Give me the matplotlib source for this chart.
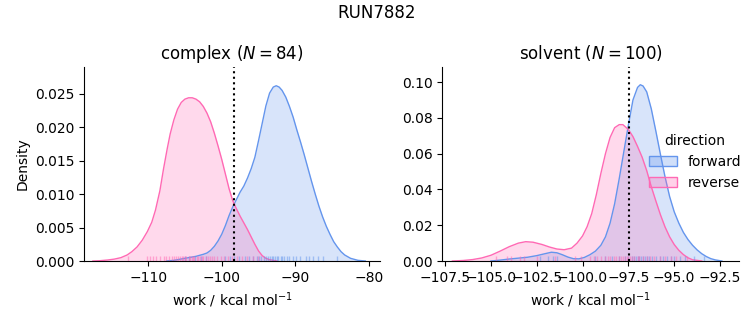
import matplotlib
matplotlib.use("Agg")
import matplotlib.pyplot as plt
import seaborn as sns
from matplotlib.patches import Patch
from matplotlib.colors import to_rgba

# ---- data ----
fwd_color = "#6495ED"
rev_color = "#FF69B4"

# complex: density curves (work, density)
cx_fwd_x = [-107.5, -106.5, -105.5, -104.5, -103.5, -102.5, -102.0, -101.5, -101.0, -100.5, -100.0,
            -99.5, -99.0, -98.5, -98.0, -97.5, -97.0, -96.5, -96.0, -95.5, -95.0, -94.5, -94.0,
            -93.5, -93.0, -92.6, -92.2, -91.8, -91.3, -90.8, -90.3, -89.8, -89.3, -88.8, -88.3,
            -87.8, -87.3, -86.8, -86.3, -85.8, -85.3, -84.8, -84.3, -83.8, -83.3, -82.5, -81.5, -80.5]
cx_fwd_y = [0.0, 0.0001, 0.0003, 0.0005, 0.0007, 0.0010, 0.0012, 0.0016, 0.0022, 0.0030, 0.0040,
            0.0053, 0.0068, 0.0081, 0.0092, 0.0103, 0.0112, 0.0124, 0.0138, 0.0155, 0.0180, 0.0206,
            0.0232, 0.0251, 0.0260, 0.0262, 0.0260, 0.0255, 0.0245, 0.0231, 0.0215, 0.0196, 0.0178,
            0.0159, 0.0139, 0.0119, 0.0100, 0.0082, 0.0066, 0.0052, 0.0040, 0.0029, 0.0021, 0.0014,
            0.0009, 0.0004, 0.0001, 0.0]
cx_rev_x = [-117.5, -116.5, -115.5, -114.6, -113.7, -112.85, -112.2, -111.5, -110.8, -110.1, -109.5,
            -109.0, -108.4, -107.9, -107.4, -107.0, -106.5, -106.0, -105.5, -105.0, -104.5, -104.0,
            -103.5, -103.0, -102.5, -102.0, -101.5, -101.0, -100.5, -100.0, -99.5, -99.0, -98.5,
            -98.0, -97.5, -97.0, -96.5, -96.0, -95.5, -95.0, -94.5, -94.0, -93.5, -92.5]
cx_rev_y = [0.0, 0.00005, 0.00015, 0.00028, 0.0005, 0.0009, 0.0014, 0.0021, 0.0031, 0.0044, 0.0058,
            0.0076, 0.0105, 0.0138, 0.0168, 0.0190, 0.0211, 0.0227, 0.0237, 0.0242, 0.0244, 0.0244,
            0.0242, 0.0238, 0.0231, 0.0221, 0.0208, 0.0191, 0.0172, 0.0152, 0.0130, 0.0108, 0.0090,
            0.0078, 0.0067, 0.0057, 0.0047, 0.0036, 0.0025, 0.0015, 0.0008, 0.0004, 0.0002, 0.0]

# solvent: density curves
sv_fwd_x = [-105.0, -104.5, -104.0, -103.5, -103.0, -102.5, -102.0, -101.7, -101.4, -101.1, -100.8,
            -100.5, -100.2, -99.9, -99.6, -99.3, -99.0, -98.75, -98.5, -98.25, -98.0, -97.75, -97.5,
            -97.25, -97.0, -96.85, -96.7, -96.5, -96.25, -96.0, -95.75, -95.5, -95.25, -95.0, -94.75,
            -94.5, -94.25, -94.0, -93.75, -93.5, -93.25, -93.0, -92.75, -92.4]
sv_fwd_y = [0.0, 0.0005, 0.0011, 0.0016, 0.0021, 0.0030, 0.0042, 0.0049, 0.0046, 0.0035, 0.0022,
            0.0013, 0.0012, 0.0020, 0.0035, 0.0055, 0.0088, 0.0135, 0.0211, 0.0320, 0.0460, 0.0610,
            0.0760, 0.0900, 0.0970, 0.0985, 0.0978, 0.0945, 0.0850, 0.0725, 0.0595, 0.0470, 0.0360,
            0.0275, 0.0212, 0.0160, 0.0120, 0.0088, 0.0062, 0.0041, 0.0025, 0.0013, 0.0006, 0.0]
sv_rev_x = [-107.1, -106.5, -106.0, -105.5, -105.0, -104.5, -104.0, -103.5, -103.1, -102.7, -102.2,
            -101.8, -101.4, -101.0, -100.6, -100.3, -100.0, -99.75, -99.5, -99.25, -99.0, -98.75,
            -98.5, -98.25, -98.0, -97.8, -97.5, -97.25, -97.0, -96.75, -96.5, -96.25, -96.0, -95.75,
            -95.5, -95.25, -95.0, -94.75, -94.5, -94.25, -94.0, -93.5]
sv_rev_y = [0.0, 0.0003, 0.0008, 0.0017, 0.0032, 0.0055, 0.0080, 0.0100, 0.0108, 0.0105, 0.0092,
            0.0078, 0.0067, 0.0063, 0.0072, 0.0100, 0.0140, 0.0192, 0.0265, 0.0370, 0.0490, 0.0600,
            0.0690, 0.0745, 0.0762, 0.0762, 0.0735, 0.0695, 0.0640, 0.0580, 0.0505, 0.0415, 0.0335,
            0.0258, 0.0190, 0.0135, 0.0092, 0.0060, 0.0036, 0.0018, 0.0007, 0.0]

# rug samples (approximate work values)
cx_rev_rug = [-112.7, -110.2, -109.8, -109.3, -108.9, -108.4, -107.9, -107.6, -107.2, -106.8, -106.5,
              -106.2, -105.9, -105.7, -105.4, -105.2, -105.0, -104.8, -104.5, -104.3, -104.1, -103.9,
              -103.7, -103.4, -103.2, -103.0, -102.7, -102.5, -102.2, -101.9, -101.6, -101.3, -101.0,
              -100.6, -100.1, -99.7, -99.2, -98.6, -97.9, -97.2, -96.5, -95.8, -95.1]
cx_fwd_rug = [-105.0, -104.4, -103.6, -102.8, -102.2, -99.6, -98.9, -98.3, -97.6, -96.9, -96.3, -95.7,
              -95.2, -94.9, -94.6, -94.3, -94.0, -93.7, -93.5, -93.2, -93.0, -92.8, -92.5, -92.3,
              -92.0, -91.8, -91.5, -91.2, -90.8, -90.3, -89.9, -89.4, -88.6, -88.1, -87.6, -86.9,
              -86.3, -84.4]
sv_rev_rug = [-104.7, -104.1, -103.9, -103.4, -103.2, -102.5, -101.5, -100.4, -100.1, -99.6, -99.4,
              -99.2, -99.0, -98.8, -98.6, -98.5, -98.3, -98.2, -98.0, -97.9, -97.8, -97.7, -97.6,
              -97.5, -97.4, -97.3, -97.2, -97.0, -96.9, -96.7, -96.5, -96.3, -96.1, -95.8, -95.5,
              -95.2, -94.9, -94.3]
sv_fwd_rug = [-102.3, -101.9, -101.6, -101.4, -99.3, -98.8, -98.4, -98.0, -97.7, -97.5, -97.3, -97.2,
              -97.1, -97.0, -96.9, -96.8, -96.7, -96.6, -96.5, -96.4, -96.2, -96.0, -95.8, -95.6,
              -95.4, -95.2, -95.0, -94.7, -94.4, -93.9, -93.4]

cx_vline = -98.4
sv_vline = -97.45

cx_xticks = [-110, -100, -90, -80]
cx_yticks = [0.0, 0.005, 0.010, 0.015, 0.020, 0.025]
sv_xticks = [-107.5, -105.0, -102.5, -100.0, -97.5, -95.0, -92.5]
sv_yticks = [0.0, 0.02, 0.04, 0.06, 0.08, 0.10]

# ---- figure ----
fig = plt.figure(figsize=(7.53, 3.25), dpi=100)
ax1 = fig.add_axes([0.1116, 0.1969, 0.3931, 0.5969])
ax2 = fig.add_axes([0.5874, 0.1969, 0.3944, 0.5969])


def draw(ax, fx, fy, rx, ry, frug, rrug, vline):
    ax.fill_between(fx, fy, 0, color=fwd_color, alpha=0.25, lw=0)
    ax.plot(fx, fy, color=fwd_color, lw=1.0)
    ax.fill_between(rx, ry, 0, color=rev_color, alpha=0.25, lw=0)
    ax.plot(rx, ry, color=rev_color, lw=1.0)
    sns.rugplot(x=frug, ax=ax, color=fwd_color, height=0.025, alpha=0.5, linewidth=1)
    sns.rugplot(x=rrug, ax=ax, color=rev_color, height=0.025, alpha=0.5, linewidth=1)
    ax.axvline(vline, color="black", ls=":", lw=1.5)
    ax.spines["top"].set_visible(False)
    ax.spines["right"].set_visible(False)
    ax.set_xlabel("work / kcal mol$^{-1}$")


draw(ax1, cx_fwd_x, cx_fwd_y, cx_rev_x, cx_rev_y, cx_fwd_rug, cx_rev_rug, cx_vline)
draw(ax2, sv_fwd_x, sv_fwd_y, sv_rev_x, sv_rev_y, sv_fwd_rug, sv_rev_rug, sv_vline)

ax1.set_xlim(-118.7, -78.5)
ax1.set_ylim(0, 0.0290)
ax1.set_xticks(cx_xticks)
ax1.set_yticks(cx_yticks)
ax1.set_yticklabels([f"{v:.3f}" for v in cx_yticks])
ax1.set_ylabel("Density")
ax1.set_title("complex ($N = 84$)")

ax2.set_xlim(-107.65, -91.45)
ax2.set_ylim(0, 0.1084)
ax2.set_xticks(sv_xticks)
ax2.set_xticklabels([f"{v:.1f}".replace("-", "\u2212") for v in sv_xticks])
ax2.set_yticks(sv_yticks)
ax2.set_yticklabels([f"{v:.2f}" for v in sv_yticks])
ax2.set_ylabel("")
ax2.set_title("solvent ($N = 100$)")

handles = [Patch(facecolor=to_rgba(fwd_color, 0.3), edgecolor=fwd_color),
           Patch(facecolor=to_rgba(rev_color, 0.3), edgecolor=rev_color)]
ax2.legend(handles, ["forward", "reverse"], title="direction", frameon=False,
           loc="center left", bbox_to_anchor=(0.653, 0.51))

fig.suptitle("RUN7882", y=0.96, va="center")

fig.savefig("out.png", dpi=100)
